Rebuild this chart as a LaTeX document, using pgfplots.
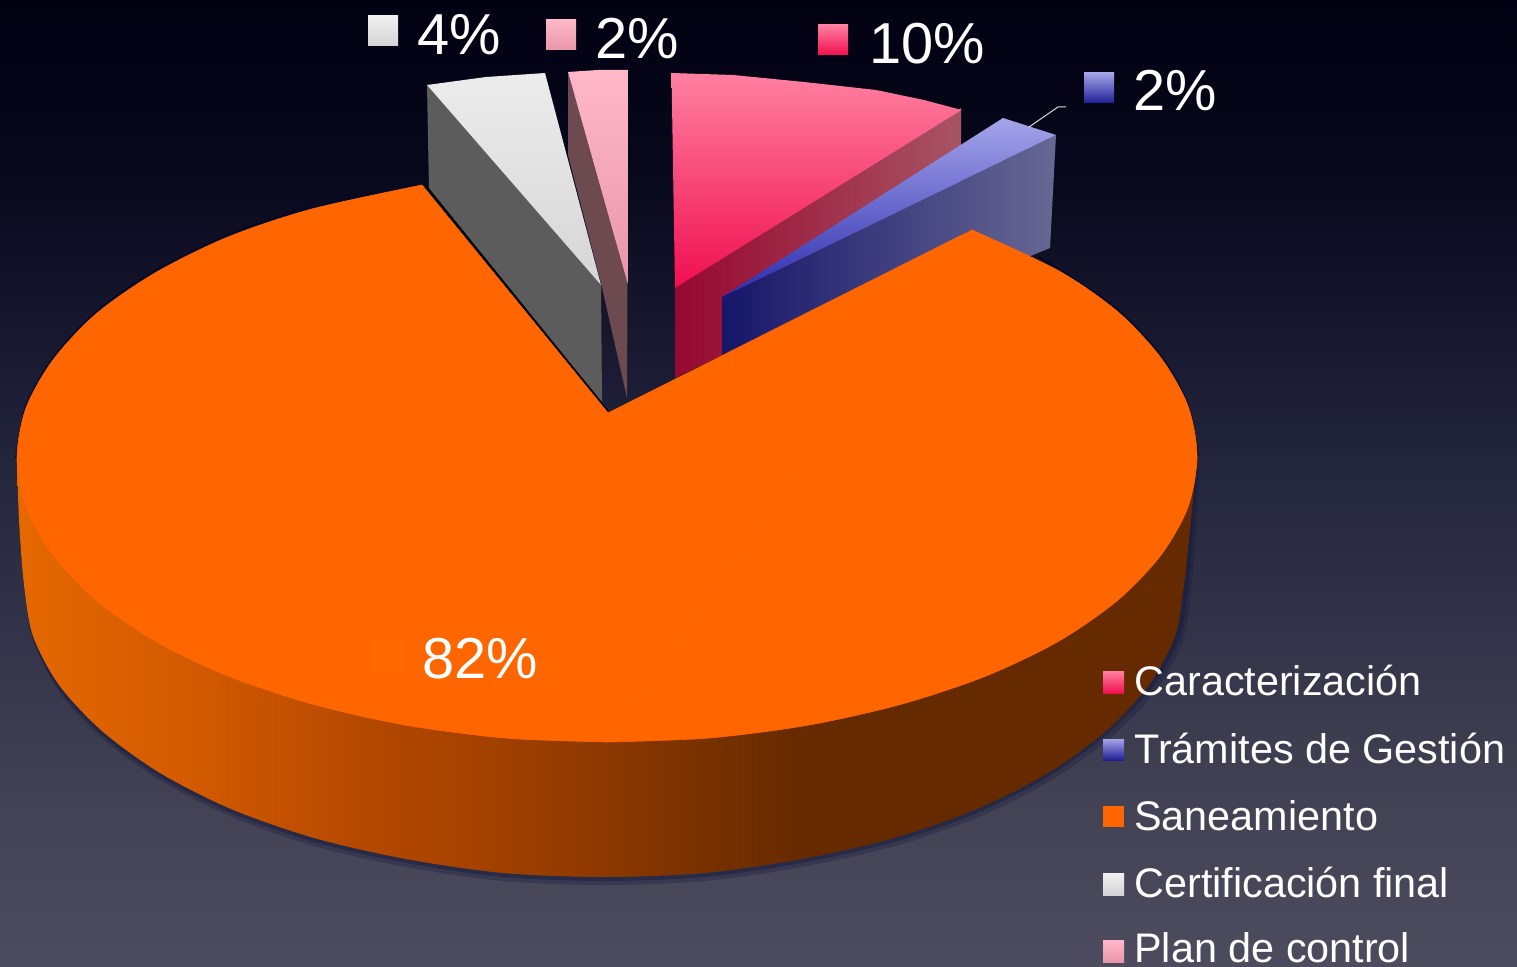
\documentclass[border=0pt]{standalone}
\usepackage{fontspec}
\setmainfont{Liberation Sans}
\usepackage{pgfplots}
\pgfplotsset{compat=1.18}
\definecolor{orangetop}{RGB}{255,102,0}
\pgfdeclarehorizontalshading{rimshade}{100bp}{
  rgb(0bp)=(0.90,0.41,0);
  rgb(25bp)=(0.90,0.41,0);
  rgb(32.75bp)=(0.82,0.35,0);
  rgb(39bp)=(0.72,0.29,0);
  rgb(45.5bp)=(0.63,0.25,0);
  rgb(49.85bp)=(0.55,0.22,0);
  rgb(58.2bp)=(0.40,0.165,0);
  rgb(100bp)=(0.40,0.165,0)}
\pgfdeclareverticalshading{bgshade}{100bp}{
  rgb(0bp)=(0.298,0.298,0.369);
  rgb(25bp)=(0.298,0.298,0.369);
  rgb(33.6bp)=(0.259,0.259,0.329);
  rgb(51.7bp)=(0.133,0.141,0.235);
  rgb(66.2bp)=(0.031,0.031,0.110);
  rgb(75bp)=(0.004,0.004,0.071);
  rgb(100bp)=(0.004,0.004,0.071)}
\newcommand{\lab}[4]{\node[anchor=base west,inner sep=0,text=white,font=\fontsize{#1}{#1}\selectfont] at (axis cs:#2,#3) {#4};}
\begin{document}
\begin{tikzpicture}
\begin{axis}[
  scale only axis, width=758.5bp, height=483.5bp,
  xmin=0, xmax=1517, ymin=0, ymax=967, y dir=reverse,
  hide axis, no marks, clip=true]
% background
\addplot[draw=none, shading=bgshade]
  coordinates {(0,0)(1517,0)(1517,967)(0,967)};
% soft shadow under the rim (two layers)
\addplot[draw=none, fill={rgb,255:red,20;green,24;blue,60}, opacity=0.28, smooth]
  coordinates {(19,470)(21,530)(26,593)(35,644)(60,693)(103,739)(161,781)(232,817)(314,846)(406,867)(503,881)(604,885)(705,881)(802,867)(895,846)(979,817)(1050,781)(1109,739)(1154,693)(1182,644)(1191,593)(1196,530)(1200,470)};
\addplot[draw=none, fill={rgb,255:red,20;green,24;blue,60}, opacity=0.42, smooth]
  coordinates {(18,470)(20,525)(24,589)(33,640)(59,689)(102,735)(160,777)(231,813)(314,842)(406,863)(503,877)(604,881)(705,877)(802,863)(894,842)(977,813)(1048,777)(1106,735)(1151,689)(1179,640)(1188,589)(1193,525)(1198,470)};
% Plan de control: side, then top
\addplot[draw=none, fill={rgb,255:red,108;green,74;blue,80}]
  coordinates {(568,72)(627.5,283)(627,398)(601,283)(568,155)};
\addplot[draw=none, top color={rgb,255:red,255;green,184;blue,200}, bottom color={rgb,255:red,232;green,150;blue,170}]
  coordinates {(568,72)(598,70)(627.5,70)(627.5,283)};
% Certificacion final: side, then top
\addplot[draw=none, fill={rgb,255:red,92;green,92;blue,92}]
  coordinates {(427,85)(601,285)(602,402)(429,190)};
\addplot[draw=none, top color={rgb,255:red,236;green,236;blue,236}, bottom color={rgb,255:red,214;green,214;blue,214}]
  coordinates {(427,85)(486,77)(545,73)(601,285)};
% Caracterizacion: side, then top
\addplot[draw=none, left color={rgb,255:red,150;green,8;blue,48}, right color={rgb,255:red,168;green,84;blue,100}]
  coordinates {(675,288)(961,108)(961,240)(722,355)(675,378)};
\addplot[draw=none, top color={rgb,255:red,255;green,128;blue,160}, bottom color={rgb,255:red,240;green,15;blue,80}]
  coordinates {(671.5,73)(733,75)(804,82)(876,90)(924,100)(961.5,110)(675,288)};
% Tramites de Gestion: side, then top
\addplot[draw=none, left color={rgb,255:red,22;green,22;blue,106}, right color={rgb,255:red,104;green,104;blue,148}]
  coordinates {(722,297)(1056,135)(1050,248)(1028,257)(971,230)(722,355)};
\addplot[draw=none, top color={rgb,255:red,164;green,164;blue,234}, bottom color={rgb,255:red,44;green,44;blue,176}]
  coordinates {(1003,118)(1056,135)(722,297)};
% leader line
\addplot[color=white!85!black, line width=0.5pt] coordinates {(1029,127)(1058,107)(1066,107)};
% dark edges around the orange slice
\addplot[color=black, line width=1.5pt] coordinates {(426,187)(607,411)};
\addplot[color={rgb,255:red,4;green,8;blue,40}, line width=0.8pt, smooth]
  coordinates {(422,184)(312,207)(228,235)(155,271)(96,312)(53,358)(26,406)(16,458)};
\addplot[color={rgb,255:red,4;green,8;blue,40}, line width=0.8pt, smooth]
  coordinates {(1038,257)(1059,269)(1118,310)(1161,356)(1188,404)(1198,456)};
% rim
\addplot[draw=none, shading=rimshade, smooth]
  coordinates {(17,458)(19,520)(24,585)(33,636)(59,685)(102,731)(160,773)(231,809)(314,838)(406,859)(503,873)(604,877)(705,873)(802,859)(894,838)(977,809)(1048,773)(1106,731)(1149,685)(1175,636)(1184,585)(1191,520)(1197,458)};
% top of Saneamiento
\addplot[draw=orangetop, line width=0.3pt, fill=orangetop, smooth]
  coordinates {(422,185)(312,209)(228,237)(155,273)(96,314)(53,360)(26,408)(17,458)(26,507)(53,555)(96,600)(155,641)(228,676)(312,704)(405,725)(505,738)(607,742)};
\addplot[draw=orangetop, line width=0.3pt, fill=orangetop, smooth]
  coordinates {(607,742)(709,738)(809,725)(902,704)(986,676)(1059,641)(1118,600)(1161,555)(1188,507)(1197,456)(1188,406)(1161,358)(1118,312)(1059,271)(972,230)};
\addplot[draw=orangetop, line width=0.3pt, fill=orangetop]
  coordinates {(422,185)(608,413)(972,230)(607,742)(422,185)};
% patches over the joins of the three pieces
\addplot[color=orangetop, line width=1.5pt] coordinates {(440,240)(600,725)};
\addplot[color=orangetop, line width=1.5pt] coordinates {(615,725)(955,254)};
% data-label swatches
\addplot[draw=none, top color={rgb,255:red,240;green,240;blue,240}, bottom color={rgb,255:red,212;green,212;blue,212}]
  coordinates {(368,16)(398,16)(398,46)(368,46)};
\addplot[draw=none, top color={rgb,255:red,255;green,184;blue,200}, bottom color={rgb,255:red,232;green,150;blue,170}]
  coordinates {(546,20)(576,20)(576,50)(546,50)};
\addplot[draw=none, top color={rgb,255:red,255;green,128;blue,160}, bottom color={rgb,255:red,240;green,15;blue,80}]
  coordinates {(818,25)(848,25)(848,55)(818,55)};
\addplot[draw=none, top color={rgb,255:red,164;green,164;blue,234}, bottom color={rgb,255:red,32;green,32;blue,150}]
  coordinates {(1084,73)(1114,73)(1114,103)(1084,103)};
\addplot[draw=none, fill={rgb,255:red,255;green,106;blue,0}]
  coordinates {(373,640)(403,640)(403,670)(373,670)};
% legend swatches
\addplot[draw=none, top color={rgb,255:red,255;green,128;blue,160}, bottom color={rgb,255:red,240;green,15;blue,80}]
  coordinates {(1103,671)(1124,671)(1124,693)(1103,693)};
\addplot[draw=none, top color={rgb,255:red,164;green,164;blue,234}, bottom color={rgb,255:red,32;green,32;blue,150}]
  coordinates {(1103,739)(1124,739)(1124,760)(1103,760)};
\addplot[draw=none, fill=orangetop]
  coordinates {(1103,806)(1124,806)(1124,827)(1103,827)};
\addplot[draw=none, top color={rgb,255:red,240;green,240;blue,240}, bottom color={rgb,255:red,212;green,212;blue,212}]
  coordinates {(1103,873)(1124,873)(1124,895)(1103,895)};
\addplot[draw=none, top color={rgb,255:red,255;green,184;blue,200}, bottom color={rgb,255:red,232;green,150;blue,170}]
  coordinates {(1103,940)(1124,940)(1124,962)(1103,962)};
% texts
\lab{29}{417}{55}{4\%}
\lab{29}{595}{59}{2\%}
\lab{29}{869}{64}{10\%}
\lab{29}{1133}{111}{2\%}
\lab{29}{422}{678}{82\%}
\lab{20.75}{1134}{695}{Caracterización}
\lab{20.75}{1134}{763}{Trámites de Gestión}
\lab{20.75}{1134}{830}{Saneamiento}
\lab{20.75}{1134}{897}{Certificación final}
\lab{20.75}{1134}{962}{Plan de control}
\end{axis}
\end{tikzpicture}
\end{document}
